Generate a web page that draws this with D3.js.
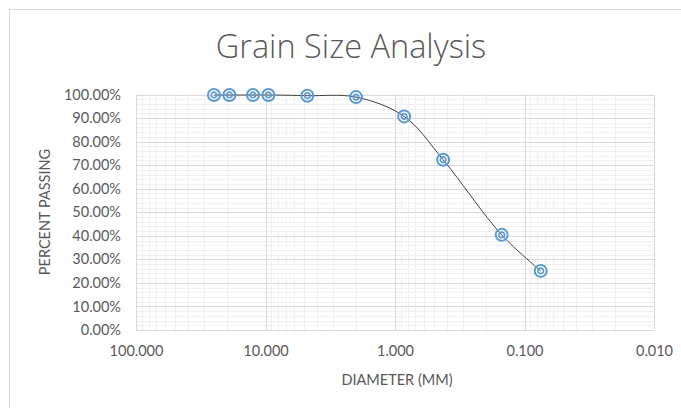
<!DOCTYPE html>
<html>
<head>
<meta charset="utf-8">
<script src="https://cdn.jsdelivr.net/npm/d3@7/dist/d3.min.js"></script>
<style>
  html, body { margin: 0; padding: 0; background: #fff; }
  svg { display: block; }
  text { font-family: Lato, "Open Sans", sans-serif; fill: #595959; }
</style>
</head>
<body>
<svg id="chart" width="681" height="408"></svg>
<script>
// Sieve sizes (mm) and cumulative percent passing
const diameters = [25, 19, 12.5, 9.5, 4.75, 2.0, 0.85, 0.425, 0.15, 0.075];
const percentPassing = [0.998, 0.998, 0.998, 0.998, 0.995, 0.989, 0.907, 0.723, 0.404, 0.251];
const xTickValues = [100, 10, 1, 0.1, 0.01];
const yTickValues = [0, 0.1, 0.2, 0.3, 0.4, 0.5, 0.6, 0.7, 0.8, 0.9, 1.0];

const W = 681, H = 408;
const margin = { top: 94.5, right: 27, bottom: 78, left: 136 };
const svg = d3.select("#chart");

// Outer chart frame
svg.append("rect")
  .attr("x", 9.5).attr("y", 9.5)
  .attr("width", 720).attr("height", 430)
  .attr("fill", "none").attr("stroke", "#d9d9d9").attr("stroke-width", 1);

const x = d3.scaleLog().domain([100, 0.01]).range([margin.left, W - margin.right]);
const y = d3.scaleLinear().domain([0, 1]).range([H - margin.bottom, margin.top]);

const grid = svg.append("g");

// Minor grid: log sub-decades vertically, 2% steps horizontally
const minorX = [];
for (let e = -2; e < 2; e++) {
  for (let m = 2; m <= 9; m++) minorX.push(m * Math.pow(10, e));
}
const minorY = d3.range(0, 101, 2).filter(v => v % 10 !== 0).map(v => v / 100);

grid.selectAll(".mx").data(minorX).join("line")
  .attr("x1", d => Math.round(x(d)) + 0.5).attr("x2", d => Math.round(x(d)) + 0.5)
  .attr("y1", y(0)).attr("y2", y(1))
  .attr("stroke", "#f0f0f0").attr("stroke-width", 1);
grid.selectAll(".my").data(minorY).join("line")
  .attr("x1", x(100)).attr("x2", x(0.01))
  .attr("y1", d => Math.round(y(d)) + 0.5).attr("y2", d => Math.round(y(d)) + 0.5)
  .attr("stroke", "#f0f0f0").attr("stroke-width", 1);

// Major grid
grid.selectAll(".Mx").data(xTickValues).join("line")
  .attr("x1", d => Math.round(x(d)) + 0.5).attr("x2", d => Math.round(x(d)) + 0.5)
  .attr("y1", y(0)).attr("y2", y(1))
  .attr("stroke", "#d9d9d9").attr("stroke-width", 1);
grid.selectAll(".My").data(yTickValues).join("line")
  .attr("x1", x(100)).attr("x2", x(0.01))
  .attr("y1", d => Math.round(y(d)) + 0.5).attr("y2", d => Math.round(y(d)) + 0.5)
  .attr("stroke", "#d9d9d9").attr("stroke-width", 1);

// Axes (labels only; grid provides the lines)
const xAxis = d3.axisBottom(x).tickValues(xTickValues)
  .tickFormat(d3.format(".3f")).tickSize(0).tickPadding(16);
const gx = svg.append("g").attr("transform", `translate(0,${H - margin.bottom})`).call(xAxis);
gx.select(".domain").remove();
gx.selectAll("text").style("font-size", "14.5px").attr("fill", "#595959");

const yAxis = d3.axisLeft(y).tickValues(yTickValues)
  .tickFormat(d3.format(".2%")).tickSize(0).tickPadding(15);
const gy = svg.append("g").attr("transform", `translate(${margin.left},0)`).call(yAxis);
gy.select(".domain").remove();
gy.selectAll("text").style("font-size", "14.5px").attr("fill", "#595959");

// Title and axis titles
svg.append("text")
  .attr("x", 351).attr("y", 58)
  .attr("text-anchor", "middle")
  .style("font-family", "'Open Sans', Lato, sans-serif")
  .style("font-size", "32.5px").style("font-weight", 300)
  .text("Grain Size Analysis");

svg.append("text")
  .attr("x", 397).attr("y", 385)
  .attr("text-anchor", "middle")
  .style("font-size", "14.5px")
  .text("DIAMETER (MM)");

svg.append("text")
  .attr("transform", "translate(50,212) rotate(-90)")
  .attr("text-anchor", "middle")
  .style("font-size", "14.5px")
  .text("PERCENT PASSING");

// Gradation curve
const pts = diameters.map((d, i) => [d, percentPassing[i]]);
const line = d3.line()
  .x(d => x(d[0])).y(d => y(d[1]))
  .curve(d3.curveCatmullRom.alpha(0.5));

svg.append("path")
  .datum(pts)
  .attr("d", line)
  .attr("fill", "none")
  .attr("stroke", "#404040")
  .attr("stroke-width", 1);

// Target-style markers
const mk = svg.append("g").selectAll("g").data(pts).join("g")
  .attr("transform", d => `translate(${x(d[0])},${y(d[1])})`);
mk.append("circle").attr("r", 6)
  .attr("fill", "none").attr("stroke", "#5b9bd5").attr("stroke-width", 2);
mk.append("circle").attr("r", 2.8)
  .attr("fill", "none").attr("stroke", "#5b9bd5").attr("stroke-width", 1.7);
</script>
</body>
</html>
